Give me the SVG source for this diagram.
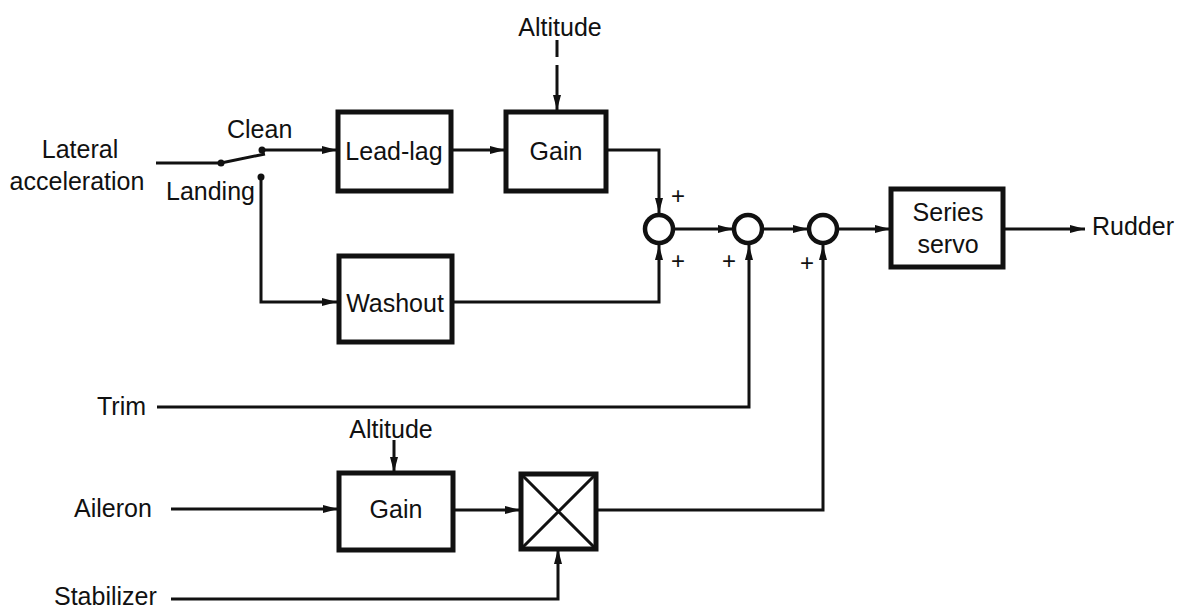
<svg xmlns="http://www.w3.org/2000/svg" width="1177" height="610" viewBox="0 0 1177 610">
<style>
text{font-family:"Liberation Sans",Arial,sans-serif;font-size:25px;fill:#111}
.box{fill:#fff;stroke:#111;stroke-width:5}
.ln{fill:none;stroke:#111;stroke-width:3}
.arr{marker-end:url(#ah)}
.m{text-anchor:middle}
.p{font-size:24px}
</style>
<defs>
<marker id="ah" markerUnits="userSpaceOnUse" markerWidth="16" markerHeight="10" refX="15" refY="5" orient="auto">
<path d="M0,1 L15,5 L0,9 z" fill="#111"/>
</marker>
</defs>
<rect width="1177" height="610" fill="#fff"/>
<g id="connectors">
<path class="ln" d="M156,163 L221,163 L265,154"/>
<path class="ln arr" d="M262,150 L337,150"/>
<path class="ln arr" d="M261,177 L261,302 L337,302"/>
<path class="ln arr" d="M451,150 L505,150"/>
<path class="ln" d="M557,40 L557,57"/>
<path class="ln arr" d="M557,65 L557,110"/>
<path class="ln arr" d="M606,150 L659,150 L659,213"/>
<path class="ln arr" d="M452,302 L659,302 L659,245"/>
<path class="ln arr" d="M674,229 L733,229"/>
<path class="ln arr" d="M763,229 L808,229"/>
<path class="ln arr" d="M838,229 L890,229"/>
<path class="ln arr" d="M1003,229 L1085,229"/>
<path class="ln arr" d="M157,407 L749,407 L749,245"/>
<path class="ln arr" d="M596,510 L823,510 L823,245"/>
<path class="ln arr" d="M394,440 L394,472"/>
<path class="ln arr" d="M171,509 L338,509"/>
<path class="ln arr" d="M453,510 L520,510"/>
<path class="ln arr" d="M171,599 L558,599 L558,549"/>
<circle cx="221" cy="163" r="3.5" fill="#111"/>
<circle cx="262" cy="150" r="3.5" fill="#111"/>
<circle cx="261" cy="177" r="3.5" fill="#111"/>
</g>
<g id="lateral"><text class="m" x="80" y="158">Lateral</text><text class="m" x="77" y="190">acceleration</text></g>
<g id="switch-labels"><text x="227" y="138">Clean</text><text x="166" y="200">Landing</text></g>
<g id="leadlag"><rect class="box" x="338" y="112" width="113" height="79"/><text class="m" x="394" y="160">Lead-lag</text></g>
<g id="gain1"><rect class="box" x="506" y="112" width="100" height="79"/><text class="m" x="556" y="160">Gain</text></g>
<g id="altitude1"><text class="m" x="560" y="36">Altitude</text></g>
<g id="washout"><rect class="box" x="339" y="256" width="113" height="86"/><text class="m" x="395" y="312">Washout</text></g>
<g id="sum1"><circle cx="659" cy="229" r="14" fill="#fff" stroke="#111" stroke-width="4.5"/><text class="p" x="671" y="204">+</text><text class="p" x="671" y="269">+</text></g>
<g id="sum2"><circle cx="748" cy="229" r="14" fill="#fff" stroke="#111" stroke-width="4.5"/><text class="p" x="722" y="269">+</text></g>
<g id="sum3"><circle cx="823" cy="229" r="14" fill="#fff" stroke="#111" stroke-width="4.5"/><text class="p" x="800" y="271">+</text></g>
<g id="servo"><rect class="box" x="891" y="189" width="112" height="78"/><text class="m" x="948" y="221">Series</text><text class="m" x="948" y="253">servo</text></g>
<g id="rudder"><text x="1092" y="235">Rudder</text></g>
<g id="trim"><text x="97" y="415">Trim</text></g>
<g id="altitude2"><text class="m" x="391" y="438">Altitude</text></g>
<g id="aileron"><text x="74" y="517">Aileron</text></g>
<g id="gain2"><rect class="box" x="339" y="473" width="114" height="77"/><text class="m" x="396" y="518">Gain</text></g>
<g id="multiplier"><rect class="box" x="521" y="474" width="75" height="75"/><path class="ln" d="M523,476 L594,547 M594,476 L523,547"/></g>
<g id="stabilizer"><text x="54" y="605">Stabilizer</text></g>
</svg>
